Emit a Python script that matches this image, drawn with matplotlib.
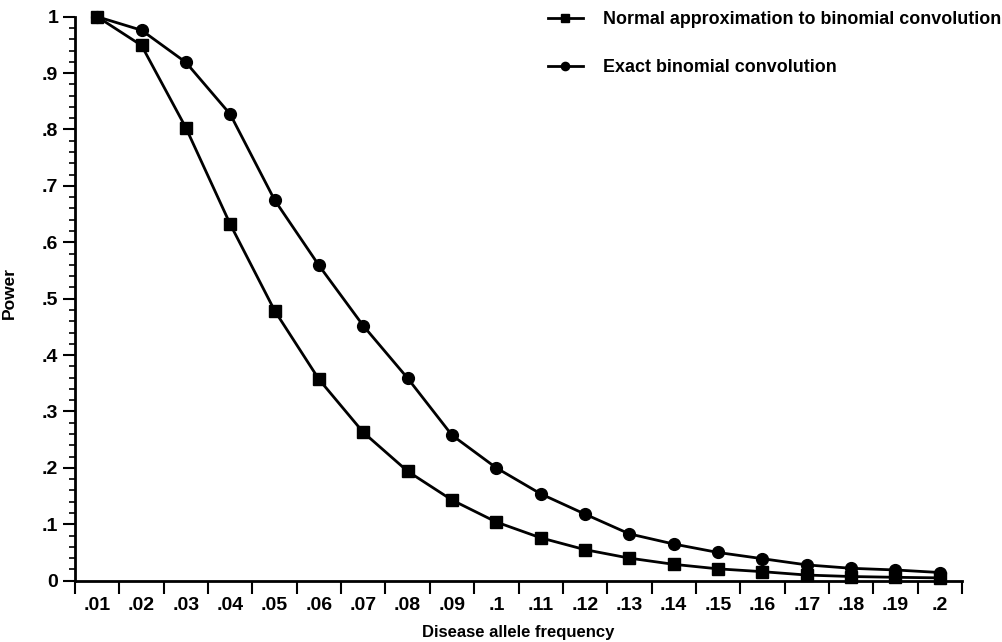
import matplotlib
matplotlib.use('Agg')
import matplotlib.pyplot as plt
import numpy as np

# disease allele frequencies (one category per bin)
freq_labels = ['.01', '.02', '.03', '.04', '.05', '.06', '.07', '.08', '.09', '.1',
               '.11', '.12', '.13', '.14', '.15', '.16', '.17', '.18', '.19', '.2']

# power
normal_approx = [1.0, 0.949, 0.803, 0.632, 0.479, 0.357, 0.263, 0.194, 0.143, 0.104,
                 0.076, 0.055, 0.040, 0.029, 0.021, 0.016, 0.010, 0.0074, 0.006, 0.005]
exact_binom = [1.0, 0.976, 0.919, 0.827, 0.675, 0.559, 0.452, 0.359, 0.258, 0.200,
               0.154, 0.118, 0.083, 0.065, 0.050, 0.039, 0.028, 0.022, 0.019, 0.0145]

y_labels = ['0', '.1', '.2', '.3', '.4', '.5', '.6', '.7', '.8', '.9', '1']

plt.rcParams['font.family'] = ['Liberation Sans', 'DejaVu Sans']
plt.rcParams['font.weight'] = 'bold'

fig = plt.figure(figsize=(10.03, 6.42), dpi=100)
ax = fig.add_axes([0.0748, 0.0955, 0.8843, 0.8785])

x = np.arange(len(freq_labels)) + 0.5
ax.plot(x, normal_approx, color='black', lw=2, marker='s', ms=9,
        label='Normal approximation to binomial convolution', clip_on=False, zorder=3)
ax.plot(x, exact_binom, color='black', lw=2, marker='o', ms=8.5,
        label='Exact binomial convolution', clip_on=False, zorder=3)

ax.set_xlim(0, len(freq_labels))
ax.set_ylim(0, 1)

# bin boundaries as major ticks, labels at bin centres
ax.set_xticks(np.arange(len(freq_labels) + 1))
ax.set_xticklabels([])
ax.set_xticks(x, minor=True)
ax.set_xticklabels(freq_labels, minor=True)
ax.tick_params(axis='x', which='major', length=9, width=1.5, direction='out')
ax.tick_params(axis='x', which='minor', length=0, pad=12, labelsize=14)

ax.set_yticks(np.linspace(0, 1, 11))
ax.set_yticklabels(y_labels)
ax.set_yticks(np.arange(0, 1.001, 0.02), minor=True)
ax.tick_params(axis='y', which='major', length=9, width=1.5, pad=3, labelsize=14)
ax.tick_params(axis='y', which='minor', length=4.5, width=1.2)

for s in ['top', 'right']:
    ax.spines[s].set_visible(False)
for s in ['left', 'bottom']:
    ax.spines[s].set_linewidth(2)

ax.set_xlabel('Disease allele frequency', fontsize=12, fontweight='bold', labelpad=8)
ax.set_ylabel('Power', fontsize=12.5, fontweight='bold', labelpad=14)
ax.yaxis.set_label_coords(-0.065, 0.51)

fig.legend(*ax.get_legend_handles_labels(), loc='upper left',
           bbox_to_anchor=(548 / 1003, 1 - 11 / 642), frameon=False,
           fontsize=12.9, markerscale=0.7, handlelength=1.95, labelspacing=1.72,
           handletextpad=1.1, borderpad=0, borderaxespad=0)

fig.savefig('out.png', dpi=100)
